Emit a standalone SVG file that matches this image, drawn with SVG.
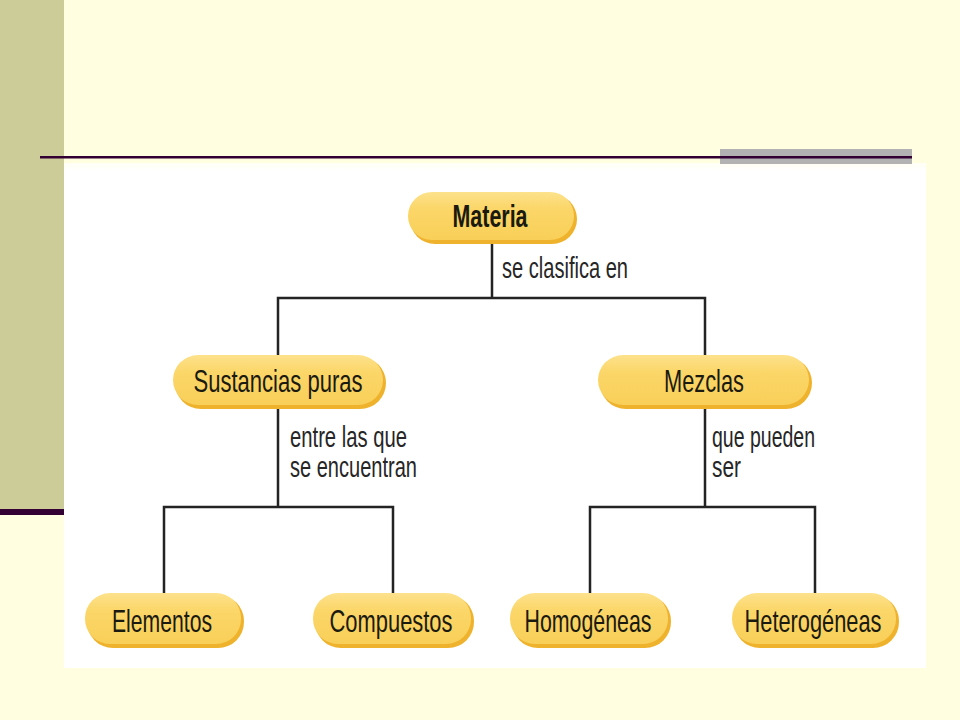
<svg xmlns="http://www.w3.org/2000/svg" width="960" height="720" viewBox="0 0 960 720">
<defs>
<linearGradient id="pillg" x1="0" y1="0" x2="0" y2="1">
<stop offset="0" stop-color="#FDE28C"/>
<stop offset="0.35" stop-color="#FBD668"/>
<stop offset="1" stop-color="#F8CF58"/>
</linearGradient>
<linearGradient id="whitefade" x1="0" y1="0" x2="0" y2="1">
<stop offset="0" stop-color="#FFFFF4"/>
<stop offset="1" stop-color="#FFFFFF"/>
</linearGradient>
</defs>
<style>
.shadow{fill:#EFB22C}
.pill{fill:url(#pillg)}
.nt{font-family:"Liberation Sans Narrow","Liberation Sans",Arial,sans-serif;font-size:32px;fill:#1A1A10;text-anchor:middle}
.lb{font-family:"Liberation Sans Narrow","Liberation Sans",Arial,sans-serif;font-size:30px;fill:#262626}
.cn{stroke:#232323;stroke-width:2.5;fill:none;stroke-linecap:square}
</style>
<rect x="0" y="0" width="960" height="720" fill="#FFFEE0"/>
<rect x="0" y="0" width="64" height="509" fill="#CCCC99"/>
<rect x="0" y="509" width="64" height="6" fill="#330033"/>
<rect x="64" y="163" width="862" height="505" fill="#FFFFFF"/>
<rect x="64" y="163" width="862" height="8" fill="url(#whitefade)"/>
<rect x="720" y="149" width="192" height="15" fill="#B2B2B2"/>
<rect x="40" y="156" width="872" height="2.5" fill="#330033"/>

<g id="connectors">
<path class="cn" d="M492,243 V298 M278,298 H705 M278,298 V355 M705,298 V355"/>
<path class="cn" d="M278,408 V507 M164,507 H393 M164,507 V593 M393,507 V593"/>
<path class="cn" d="M705,408 V507 M590,507 H815 M590,507 V593 M815,507 V593"/>
<text class="lb" x="502" y="278" textLength="126" lengthAdjust="spacingAndGlyphs">se clasifica en</text>
<text class="lb" x="290" y="447" textLength="117" lengthAdjust="spacingAndGlyphs">entre las que</text>
<text class="lb" x="290" y="477" textLength="127" lengthAdjust="spacingAndGlyphs">se encuentran</text>
<text class="lb" x="712" y="447" textLength="103" lengthAdjust="spacingAndGlyphs">que pueden</text>
<text class="lb" x="712" y="477" textLength="29" lengthAdjust="spacingAndGlyphs">ser</text>
</g>

<g id="materia">
<rect class="shadow" x="410" y="194" width="167" height="50" rx="25"/>
<rect class="pill" x="408" y="192" width="166" height="48" rx="24"/>
<text class="nt" x="490" y="227" font-weight="bold" textLength="75" lengthAdjust="spacingAndGlyphs">Materia</text>
</g>

<g id="sustancias">
<rect class="shadow" x="175" y="357" width="211" height="52" rx="26"/>
<rect class="pill" x="173" y="355" width="210" height="50" rx="25"/>
<text class="nt" x="278" y="392" textLength="169" lengthAdjust="spacingAndGlyphs">Sustancias puras</text>
</g>

<g id="mezclas">
<rect class="shadow" x="600" y="357" width="212" height="52" rx="26"/>
<rect class="pill" x="598" y="355" width="211" height="50" rx="25"/>
<text class="nt" x="704" y="392" textLength="80" lengthAdjust="spacingAndGlyphs">Mezclas</text>
</g>

<g id="elementos">
<rect class="shadow" x="87" y="595" width="157" height="53" rx="26"/>
<rect class="pill" x="85" y="593" width="156" height="51" rx="25"/>
<text class="nt" x="162" y="632" textLength="100" lengthAdjust="spacingAndGlyphs">Elementos</text>
</g>

<g id="compuestos">
<rect class="shadow" x="315" y="595" width="159" height="53" rx="26"/>
<rect class="pill" x="313" y="593" width="158" height="51" rx="25"/>
<text class="nt" x="391" y="632" textLength="123" lengthAdjust="spacingAndGlyphs">Compuestos</text>
</g>

<g id="homogeneas">
<rect class="shadow" x="512" y="595" width="159" height="53" rx="26"/>
<rect class="pill" x="510" y="593" width="158" height="51" rx="25"/>
<text class="nt" x="588" y="632" textLength="127" lengthAdjust="spacingAndGlyphs">Homogéneas</text>
</g>

<g id="heterogeneas">
<rect class="shadow" x="734" y="595" width="165" height="53" rx="26"/>
<rect class="pill" x="732" y="593" width="164" height="51" rx="25"/>
<text class="nt" x="813" y="632" textLength="137" lengthAdjust="spacingAndGlyphs">Heterogéneas</text>
</g>
</svg>
